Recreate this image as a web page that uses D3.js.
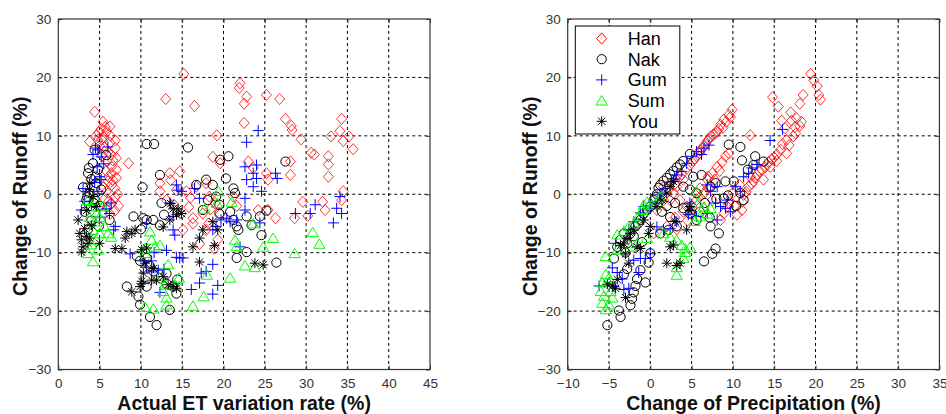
<!DOCTYPE html>
<html>
<head>
<meta charset="utf-8">
<script src="https://cdn.jsdelivr.net/npm/d3@7"></script>
<style>
  body { margin: 0; background: #fff; }
  svg { display: block; font-family: "Liberation Sans", Arial, sans-serif; }
</style>
</head>
<body>
<svg id="chart" width="946" height="414"></svg>
<script>
// series names in legend order
const seriesNames = ["Han", "Nak", "Gum", "Sum", "You"];

// left panel: [actual ET variation rate, change of runoff]
const hanET = [
  [4.4,14.1],[5.4,12.4],[6.25,11.6],[5.85,10.7],[5.2,11.2],[3.8,9.0],[4.8,9.3],[5.5,9.8],[6.25,8.8],
  [6.9,7.9],[5.6,8.0],[6.0,7.2],[7.05,6.2],[8.5,5.3],[6.45,4.7],[7.05,4.2],[6.45,3.6],[7.05,2.8],
  [6.0,2.2],[6.45,1.6],[6.85,1.0],[5.8,0.4],[6.85,-0.5],[6.45,-1.6],[6.85,-2.8],[6.25,-3.4],[5.2,9.4],
  [4.6,10.0],[5.9,5.6],[6.6,5.8],[5.3,6.6],[6.1,3.0],[5.6,-0.8],[5.9,-2.2],[6.9,9.2],[4.9,10.6],
  [5.0,8.3],[6.4,6.8],[5.8,4.0],[6.6,2.4],[5.5,1.2],[7.2,0.0],[6.1,-1.2],[7.3,-2.0],[6.3,10.0],[5.7,11.5],
  [15.2,20.6],[13.0,16.3],[16.5,15.1],[19.2,10.1],[22.0,19.0],[21.9,18.2],[22.8,16.7],[22.5,15.5],
  [22.5,12.2],[25.2,17.0],[26.8,16.3],[27.5,12.9],[28.2,11.7],[28.3,11.0],[29.4,9.4],[30.6,7.1],
  [31.0,6.8],[33.0,9.9],[34.3,12.9],[34.1,10.8],[34.5,9.1],[35.2,9.9],[35.7,7.7],[32.7,6.5],[32.7,5.1],
  [32.7,3.0],[28.1,5.6],[28.1,3.3],[18.7,6.4],[19.6,5.3],[23.0,5.6],[23.6,4.5],[25.2,3.6],[25.4,2.5],
  [34.5,0.5],[34.3,-1.0],[29.6,-1.3],[32.0,-1.3],[32.3,-2.7],[30.2,-3.7],[28.6,-4.1],[26.3,-4.1],
  [25.4,-2.7],[24.2,-2.7],[14.7,3.9],[13.5,3.6],[12.3,1.9],[12.3,0.5],[13.1,-1.0],[14.3,0.7],[15.5,0.5],
  [14.9,-3.3],[15.1,-6.1],[16.3,-4.1],[16.3,-5.0],[17.5,-3.3],[17.9,-6.1],[18.3,-0.4],[19.0,-1.5],
  [18.9,-9.3],[17.1,-8.5],[19.3,-7.8],[16.7,1.3],[17.9,1.9],[21.2,-0.4],[14.0,-1.8],[16.0,-0.6],
  [13.6,2.4],[15.8,-2.2],[18.4,-2.6],[19.6,-3.4],[18.2,-5.0],[21.6,-2.0]
];
const nakET = [
  [10.7,8.6],[11.6,8.6],[15.7,8.0],[19.6,5.9],[20.6,6.5],[27.5,5.6],[10.2,1.2],[12.3,3.3],[17.9,2.5],
  [16.7,1.6],[18.7,1.6],[20.3,2.7],[21.2,1.0],[21.4,0.2],[19.1,-0.4],[19.5,-1.8],[18.1,-1.0],[17.5,-2.7],
  [12.5,-1.5],[20.8,-3.0],[21.2,-4.4],[21.6,-5.5],[21.8,-6.1],[22.8,-3.8],[23.4,-5.3],[24.4,-3.8],
  [24.6,-7.0],[25.2,-2.8],[22.8,-9.9],[21.6,-10.9],[26.4,-11.7],[19.5,-3.3],[9.1,-3.8],[10.3,-4.1],
  [10.7,-4.4],[11.5,-4.4],[12.3,-5.3],[9.5,-10.6],[9.9,-11.4],[10.7,-10.9],[11.1,-12.3],[11.5,-13.2],
  [8.3,-15.8],[9.7,-17.5],[9.9,-18.9],[11.1,-21.0],[11.9,-22.4],[13.5,-19.8],[14.3,-17.0],[13.1,-15.3],
  [13.9,-15.8],[13.1,-13.6],[10.7,-15.8],[3.6,3.6],[4.2,5.3],[4.4,7.6],[3.8,0.2],[3.4,-1.0],[4.6,1.9],
  [4.8,4.2],[5.0,-2.0],[5.8,6.7],[6.2,-4.4],[3.2,-3.0],[4.0,-4.5],[3.6,-6.0],[4.4,-0.8],[3.0,1.2],
  [4.0,2.6],[5.2,0.8],[12.8,-3.5],[10.0,-6.0],[14.4,-14.6],[3.5,-0.5],[4.3,-1.5],[3.7,4.5],[4.9,-5.5],
  [4.5,3.0]
];
const gumET = [
  [4.5,7.9],[4.8,7.6],[5.2,6.4],[6.0,8.1],[4.7,4.7],[5.0,3.0],[5.2,2.5],[3.0,1.0],[3.8,0.5],[4.8,0.5],
  [3.2,-1.2],[4.0,-1.8],[2.8,-2.7],[5.8,-2.5],[6.2,-3.3],[6.4,-1.5],[6.9,-5.5],[6.7,-6.1],[5.0,-3.9],
  [4.2,6.8],[5.5,5.2],[4.4,2.0],[8.7,-10.2],[10.7,-5.0],[10.3,-11.4],[10.7,-12.5],[11.3,-13.3],
  [11.3,-11.4],[12.1,-13.0],[10.3,-15.3],[12.3,-16.8],[13.1,-9.6],[13.9,-6.1],[14.1,-7.0],[13.5,-1.5],
  [14.3,1.6],[14.5,0.7],[14.9,0.5],[13.9,-3.8],[14.7,-10.9],[15.1,-10.9],[14.3,-10.8],[16.5,1.0],
  [17.1,-0.7],[16.1,-16.3],[17.1,-15.2],[17.3,-13.5],[17.9,-13.2],[18.7,-12.0],[18.7,-17.1],[19.3,-15.6],
  [18.7,-6.1],[19.1,-5.5],[19.7,-4.4],[20.4,-4.1],[20.8,-4.7],[21.6,-4.4],[22.6,-2.7],[22.0,-9.0],
  [22.8,8.9],[24.2,10.9],[22.6,4.7],[24.0,5.0],[23.6,3.6],[24.0,2.7],[22.8,2.5],[22.6,-0.7],[23.6,1.3],
  [24.6,0.5],[24.4,-4.9],[26.3,3.6],[26.5,2.7],[28.7,-3.3],[30.5,-3.3],[31.1,-1.8],[33.3,-4.9],
  [33.7,-2.4],[34.1,-0.4],[34.3,-3.3],[12.8,-12.8],[11.6,-10.0]
];
const sumET = [
  [3.6,-1.0],[4.0,-2.1],[4.6,-1.0],[4.6,-3.3],[5.0,-3.9],[4.4,-4.7],[4.2,-6.1],[5.0,-6.7],[4.6,-7.8],
  [3.6,-10.1],[4.2,-11.5],[4.8,-9.5],[6.0,-6.7],[6.4,-7.3],[5.6,-5.5],[3.8,-3.9],[5.4,-2.1],[4.0,-8.6],
  [11.1,-6.4],[11.3,-7.8],[11.7,-9.0],[12.3,-8.7],[10.5,-9.2],[10.5,-10.1],[13.3,-12.0],[12.3,-14.3],
  [12.9,-15.5],[12.7,-16.6],[13.1,-17.7],[13.1,-18.9],[14.6,-14.3],[10.5,-19.3],[11.5,-19.6],[16.3,-19.1],
  [17.6,-17.5],[18.0,-13.8],[17.7,-2.5],[19.4,0.5],[19.2,-1.5],[21.0,-1.3],[20.8,-14.3],[21.4,-7.8],
  [21.6,-8.9],[23.6,-5.0],[23.8,-12.5],[22.6,-12.2],[24.8,-9.0],[26.0,-7.5],[28.6,-10.1],[30.8,-6.5],
  [31.6,-8.5],[14.2,-15.6]
];
const youET = [
  [2.4,-4.4],[2.6,-6.7],[2.8,-7.8],[3.0,-9.0],[2.8,-9.9],[3.4,-7.2],[3.8,-7.5],[4.0,-5.3],[3.2,-5.9],
  [3.6,-8.4],[4.2,-0.4],[3.8,0.8],[4.6,-2.1],[5.0,-8.4],[3.8,1.9],[3.4,-2.8],[8.3,-6.4],[8.9,-6.7],
  [9.3,-6.1],[8.1,-7.5],[6.9,-9.3],[7.7,-9.3],[8.9,-16.7],[9.9,-15.8],[10.1,-14.9],[10.3,-13.5],
  [10.1,-9.5],[10.7,-9.2],[10.5,-11.8],[11.5,-12.7],[11.3,-14.7],[11.9,-14.7],[12.7,-14.1],[13.3,-15.5],
  [13.9,-15.8],[14.3,-16.1],[12.7,-5.6],[13.5,-4.4],[13.9,-2.5],[14.5,-2.5],[14.3,-3.5],[14.9,-3.3],
  [16.3,-9.0],[17.1,-7.5],[17.5,-6.1],[18.7,-4.7],[19.3,-6.1],[18.9,-8.8],[17.1,-11.6],[23.8,-11.8],
  [24.8,-12.1],[13.6,-1.6]
];

// right panel: [change of precipitation, change of runoff]
const hanP = [
  [19.4,20.6],[19.8,19.5],[20.2,18.5],[20.4,17.0],[20.6,16.2],[14.8,16.6],[15.5,15.0],[18.5,17.0],
  [18.1,15.5],[17.1,12.6],[17.5,11.5],[17.7,13.0],[18.1,11.7],[15.9,12.6],[17.3,9.9],[16.5,9.3],
  [15.3,6.8],[14.7,6.0],[14.1,5.1],[13.5,4.2],[12.9,3.3],[12.5,2.2],[11.9,1.3],[11.3,-0.1],[11.1,-1.3],
  [11.1,-2.7],[12.1,10.1],[9.9,14.5],[9.5,13.6],[8.9,12.8],[8.5,11.9],[8.1,10.8],[7.3,9.9],[6.9,9.1],
  [6.5,8.2],[6.0,7.5],[5.6,6.5],[5.2,5.7],[9.1,6.5],[8.1,4.7],[7.5,3.6],[6.9,2.5],[7.3,1.3],[6.5,0.2],
  [5.6,-1.0],[4.0,2.5],[3.2,1.3],[2.8,0.2],[2.4,-1.0],[3.6,-1.0],[4.4,-2.1],[9.3,-2.1],[8.9,-3.3],
  [8.5,-4.4],[12.1,3.0],[13.7,2.5],[14.5,4.7],[15.3,5.7],[16.5,7.0],[1.6,1.3],[1.6,-1.0],[0.8,-2.7],
  [0.4,-6.7],[7.6,10.2],[8.8,11.4],[4.4,4.4],[3.6,3.0],[4.0,-3.0],[5.0,-2.0],[6.0,-0.5],[7.0,1.0],
  [7.8,2.5],[8.4,4.0],[3.0,-4.0],[2.0,-5.5],[3.2,-6.0],[4.5,-4.5],[6.5,-2.5],[7.5,-1.0],[9.5,-1.5],
  [10.2,-2.0],[10.5,-3.5],[10.0,0.2],[10.8,1.6],[13.2,4.0],[16.0,8.6],
  [5.9,7.0],[6.3,7.8],[6.7,8.6],[7.1,9.4],[7.9,10.4],[8.3,11.2],[9.2,12.4],[9.7,13.2],[4.8,5.0],
  [5.4,6.1],[3.8,3.4],[2.2,0.8],[3.0,1.8],[11.6,0.4],[12.3,1.8],[12.7,2.8],[13.9,4.6],[14.3,5.5],
  [15.0,6.3],[15.8,7.6],[16.8,8.4],[17.6,10.4],[18.3,12.4],[16.3,11.3],[17.0,14.0],[8.7,5.5],[9.5,7.0],
  [7.0,3.0],[6.0,1.0]
];
const nakP = [
  [-5.2,-22.4],[-3.6,-21.0],[-3.8,-19.9],[-2.4,-19.0],[-2.2,-17.9],[-2.0,-16.8],[-0.6,-15.1],[-1.8,-15.7],
  [-3.2,-13.7],[-2.8,-12.8],[-0.2,-11.7],[6.5,-11.5],[7.5,-10.2],[7.9,-9.3],[8.3,-6.7],[7.3,-5.5],
  [9.5,8.5],[10.9,8.1],[11.1,5.8],[12.7,6.5],[13.7,5.6],[10.1,2.2],[9.1,2.2],[10.9,0.2],[11.3,-1.0],
  [4.8,6.9],[4.0,5.7],[3.2,4.6],[2.4,3.4],[1.6,2.3],[1.0,1.1],[0.8,0.0],[0.4,-1.0],[0.0,-2.1],
  [-0.8,-3.3],[-1.2,-4.4],[-1.8,-5.5],[-2.4,-6.7],[-3.2,-6.7],[-3.6,-7.8],[-4.0,-9.0],[0.0,-10.1],
  [1.2,-6.7],[2.2,-6.1],[3.2,-5.5],[4.0,1.3],[4.8,0.8],[5.6,0.2],[5.2,3.0],[6.2,3.3],[7.3,1.3],[7.9,1.9],
  [8.9,-0.7],[4.0,-2.4],[4.8,-3.3],[5.6,-4.4],[1.4,-3.0],[2.4,-3.9],[-4.4,-11.0],[-3.0,-10.0],
  [-1.0,-8.2],[6.0,-3.0],[9.4,-0.2],[3.6,5.1],[2.8,4.0],[2.0,2.8],[1.2,1.6],[0.6,-0.5],[-0.4,-2.7],
  [-1.5,-5.0],[-2.0,-7.2],[-2.8,-8.4],[8.0,-0.8],[6.6,-1.5],[7.2,-4.0],[3.0,-1.5],[2.0,-2.0],
  [-1.6,-14.5],[-1.2,-13.0],[10.4,-2.0],[11.8,4.2],[12.5,5.0]
];
const gumP = [
  [-6.2,-15.7],[-4.6,-12.6],[-4.0,-13.4],[-3.4,-14.5],[-4.4,-15.8],[-3.2,-16.3],[-2.6,-16.1],[-1.4,-13.4],
  [-2.0,-11.3],[-1.2,-11.0],[-0.6,-11.0],[0.0,-10.2],[-4.2,-8.4],[-2.6,-6.1],[-2.0,-4.7],[-1.2,-3.2],
  [-0.8,-2.1],[0.0,-2.4],[0.6,-1.5],[1.2,-0.1],[1.8,1.0],[2.6,2.2],[3.2,3.3],[3.8,3.9],[4.4,5.3],
  [5.0,6.5],[5.6,7.3],[6.5,7.9],[7.1,8.4],[0.8,-5.6],[1.6,-6.1],[2.4,-5.9],[3.2,-4.7],[4.6,-3.5],
  [5.6,-3.8],[4.8,-1.5],[6.9,1.6],[7.3,0.5],[8.1,1.3],[7.9,-1.5],[6.9,-3.3],[8.1,-4.4],[8.5,-2.1],
  [9.3,-1.0],[9.7,-3.0],[9.1,-2.4],[10.3,1.3],[10.9,0.5],[11.3,3.0],[11.9,3.6],[12.3,4.5],[12.9,5.1],
  [14.5,9.2],[16.0,11.1],[6.2,6.8],[3.0,2.6]
];
const sumP = [
  [-5.4,-10.6],[-5.4,-13.7],[-5.0,-14.3],[-5.8,-15.1],[-6.0,-16.6],[-5.6,-17.4],[-5.8,-18.6],[-5.4,-19.7],
  [-4.8,-16.6],[-4.6,-17.7],[-5.0,-18.9],[-4.0,-6.9],[-3.2,-6.3],[-2.6,-5.5],[-4.0,-9.5],[-2.0,-4.9],
  [-1.4,-3.8],[-1.0,-2.7],[-0.8,-1.8],[-0.4,-1.3],[0.2,-1.8],[0.8,-1.3],[1.2,-0.4],[-2.4,-9.0],
  [-1.6,-8.4],[-0.4,-7.5],[1.6,-6.7],[2.4,-7.3],[3.2,-7.8],[3.8,-8.7],[4.2,-9.3],[4.8,-9.0],[3.2,-12.5],
  [3.2,-13.8],[4.0,-10.9],[4.2,-9.9],[5.6,0.5],[5.8,-1.5],[6.5,-2.1],[6.9,-3.3],[7.3,-2.4],[5.4,-4.6],
  [6.0,-3.8]
];
const youP = [
  [-5.2,-15.4],[-4.6,-15.7],[-4.2,-16.1],[-3.0,-17.7],[-3.2,-8.5],[-2.8,-7.6],[-3.6,-8.8],[-2.4,-6.7],
  [-2.0,-6.1],[-1.2,-9.3],[-1.6,-9.0],[-0.2,-6.7],[0.0,-5.5],[0.8,-2.1],[1.4,-1.0],[2.0,0.2],[2.4,1.3],
  [2.8,2.2],[2.4,-9.0],[2.8,-8.7],[2.0,-11.8],[3.2,-12.2],[3.6,-11.8],[3.0,-4.6],[4.4,-6.1],[4.8,-2.1],
  [4.8,-2.8],[-0.8,-4.4],[-3.0,-10.2],[-2.6,-11.8],[-4.0,-14.6]
];

const xTicksET = d3.range(0, 46, 5);
const xTicksP = d3.range(-10, 36, 5);
const yTicks = d3.range(-30, 31, 10);

const colors = { Han: "#ff0000", Nak: "#000000", Gum: "#0000ff", Sum: "#00ff00", You: "#000000" };

// MATLAB-like marker shapes
function markerPath(name) {
  switch (name) {
    case "Han": return "M0,-5.6L5,0L0,5.6L-5,0Z";
    case "Nak": return "M4.6,0A4.6,4.6 0 1,1 -4.6,0A4.6,4.6 0 1,1 4.6,0Z";
    case "Gum": return "M-5.5,0H5.5M0,-5.5V5.5";
    case "Sum": return "M0,-5L5.6,4.4L-5.6,4.4Z";
    case "You": return "M-5,0H5M0,-5V5M-3.6,-3.6L3.6,3.6M-3.6,3.6L3.6,-3.6";
  }
}

const svg = d3.select("#chart");

function drawPanel(left, xDomain, xTicks, xTitle, series, withLegend) {
  const top = 19, bottom = 369.5, right = left + 371.7;
  const x = d3.scaleLinear().domain(xDomain).range([left, right]);
  const y = d3.scaleLinear().domain([-30, 30]).range([bottom, top]);
  const g = svg.append("g");

  // dashed grid
  g.selectAll(".gx").data(xTicks.slice(1, -1)).join("line")
    .attr("x1", d => x(d)).attr("x2", d => x(d)).attr("y1", top).attr("y2", bottom)
    .attr("stroke", "#000").attr("stroke-width", 1).attr("stroke-dasharray", "3,3");
  g.selectAll(".gy").data(yTicks.slice(1, -1)).join("line")
    .attr("y1", d => y(d)).attr("y2", d => y(d)).attr("x1", left).attr("x2", right)
    .attr("stroke", "#000").attr("stroke-width", 1).attr("stroke-dasharray", "3,3");

  // markers
  series.forEach(s => {
    g.append("g").selectAll("path").data(s.data).join("path")
      .attr("d", markerPath(s.name))
      .attr("transform", d => `translate(${x(d[0])},${y(d[1])})`)
      .attr("fill", "none")
      .attr("stroke", colors[s.name])
      .attr("stroke-width", s.name === "Han" ? 0.8 : 1);
  });

  // axes with inward ticks
  const xAxis = g.append("g").attr("transform", `translate(0,${bottom})`)
    .call(d3.axisBottom(x).tickValues(xTicks).tickSize(-4).tickPadding(9));
  const yAxis = g.append("g").attr("transform", `translate(${left},0)`)
    .call(d3.axisLeft(y).tickValues(yTicks).tickSize(-4).tickPadding(7));
  [xAxis, yAxis].forEach(a => {
    a.select(".domain").remove();
    a.selectAll("line").attr("stroke", "#333");
    a.selectAll("text").attr("font-size", 13.5).attr("fill", "#333")
      .attr("font-family", "Liberation Sans, Arial, sans-serif");
  });
  g.append("g").attr("transform", `translate(0,${top})`)
    .call(d3.axisTop(x).tickValues(xTicks).tickSize(-4).tickFormat(""))
    .call(a => { a.select(".domain").remove(); a.selectAll("line").attr("stroke", "#333"); });
  g.append("g").attr("transform", `translate(${right},0)`)
    .call(d3.axisRight(y).tickValues(yTicks).tickSize(-4).tickFormat(""))
    .call(a => { a.select(".domain").remove(); a.selectAll("line").attr("stroke", "#333"); });

  g.append("rect").attr("x", left).attr("y", top)
    .attr("width", right - left).attr("height", bottom - top)
    .attr("fill", "none").attr("stroke", "#333").attr("stroke-width", 1.2);

  g.append("text").attr("x", (left + right) / 2).attr("y", 410)
    .attr("text-anchor", "middle").attr("font-weight", "bold").attr("font-size", 19.5)
    .attr("fill", "#111").text(xTitle);
  g.append("text").attr("transform", `translate(${left - 31},${(top + bottom) / 2 + 2}) rotate(-90)`)
    .attr("text-anchor", "middle").attr("font-weight", "bold").attr("font-size", 19.5)
    .attr("fill", "#111").text("Change of Runoff (%)");

  if (withLegend) {
    const lg = g.append("g");
    lg.append("rect").attr("x", left + 7.6).attr("y", 26).attr("width", 104.5).attr("height", 108)
      .attr("fill", "#fff").attr("stroke", "#000").attr("stroke-width", 1);
    seriesNames.forEach((n, i) => {
      const cy = 38.5 + i * 20.7;
      lg.append("path").attr("d", markerPath(n))
        .attr("transform", `translate(${left + 34},${cy})`)
        .attr("fill", "none").attr("stroke", colors[n]).attr("stroke-width", 1);
      lg.append("text").attr("x", left + 60).attr("y", cy + 6.5)
        .attr("font-size", 18).attr("fill", "#000").text(n);
    });
  }
}

drawPanel(58.3, [0, 45], xTicksET, "Actual ET variation rate (%)", [
  { name: "Han", data: hanET }, { name: "Nak", data: nakET }, { name: "Gum", data: gumET },
  { name: "Sum", data: sumET }, { name: "You", data: youET }
], false);

drawPanel(567.7, [-10, 35], xTicksP, "Change of Precipitation (%)", [
  { name: "Han", data: hanP }, { name: "Nak", data: nakP }, { name: "Gum", data: gumP },
  { name: "Sum", data: sumP }, { name: "You", data: youP }
], true);
</script>
</body>
</html>
